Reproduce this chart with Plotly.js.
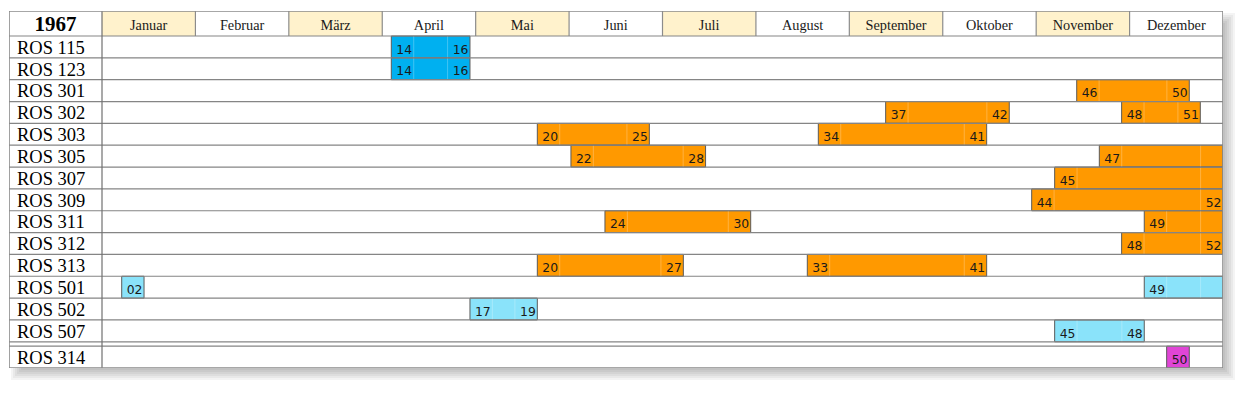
<!DOCTYPE html>
<html>
<head>
<meta charset="utf-8">
<script src="https://cdn.plot.ly/plotly-3.0.1.min.js"></script>
<style>
html,body{margin:0;padding:0;background:#fff;}
#chart{width:1242px;height:397px;}
</style>
</head>
<body>
<div id="chart"></div>
<script>
// ---------- data ----------
const year = "1967";
const months = ["Januar","Februar","März","April","Mai","Juni","Juli","August","September","Oktober","November","Dezember"];
const rowsMain = ["ROS 115","ROS 123","ROS 301","ROS 302","ROS 303","ROS 305","ROS 307","ROS 309","ROS 311","ROS 312","ROS 313","ROS 501","ROS 502","ROS 507"];
const rowsExtra = ["ROS 314"];

// one entry per bar
const barRow = ["ROS 115","ROS 123","ROS 301","ROS 302","ROS 302","ROS 303","ROS 303","ROS 305","ROS 305","ROS 307","ROS 309","ROS 311","ROS 311","ROS 312","ROS 313","ROS 313","ROS 501","ROS 501","ROS 502","ROS 507","ROS 314"];
const barStartWeek = ["14","14","46","37","48","20","34","22","47","45","44","24","49","48","20","33","02","49","17","45","50"];
const barEndWeek   = ["16","16","50","42","51","25","41","28","","","52","30","","52","27","41","","","19","48",""];
// bar extents, in months from 1 January (0 = start of Januar, 12 = end of Dezember)
const barStart = [3.097,3.097,10.434,8.389,10.915,4.660,7.668,5.020,10.676,10.198,9.952,5.384,11.157,10.915,4.660,7.550,0.211,11.157,3.939,10.198,11.397];
const barEnd   = [3.939,3.939,11.639,9.712,11.757,5.859,9.470,6.461,12.000,12.000,12.000,6.944,12.000,12.000,6.223,9.470,0.450,12.000,4.660,11.157,11.639];
const barKind  = ["blue","blue","orange","orange","orange","orange","orange","orange","orange","orange","orange","orange","orange","orange","orange","orange","light","light","light","light","magenta"];

// ---------- styling ----------
const kindColor = {blue:"#00B0F0", orange:"#FF9900", light:"#8AE3FA", magenta:"#E045D6"};
const W = 1242, H = 397;
const M = {l:9, r:19, t:11, b:29};
const plotW = W - M.l - M.r, plotH = H - M.t - M.b;
const pxPerMonth = (1223 - 102) / 12;
const xMin = -93 / pxPerMonth;
const headerUnits = 1.1447;
const gap = 0.2;
const yBottom = rowsMain.length + gap + rowsExtra.length;
const pxPerRow = plotH / (yBottom + headerUnits);
const serif = "Liberation Serif, Times New Roman, serif";
const sans = "DejaVu Sans, Verdana, sans-serif";

// row positions (top edge of each row in y units)
const rowTop = {};
rowsMain.forEach((r,i)=>{ rowTop[r] = i; });
rowsExtra.forEach((r,i)=>{ rowTop[r] = rowsMain.length + gap + i; });
const allRows = rowsMain.concat(rowsExtra);

const barY = barRow.map(r => rowTop[r] + 0.5);

const traces = [];
traces.push({
  type:"bar", orientation:"h",
  y: barY, base: barStart, x: barStart.map((s,i)=>barEnd[i]-s),
  width: barRow.map(()=>1),
  marker:{color: barKind.map(k=>kindColor[k]), line:{color:"#5a5a5a", width:1}},
  hoverinfo:"skip", showlegend:false
});
const tdy = 3.6 / pxPerRow;
traces.push({
  type:"scatter", mode:"text",
  x: barStart.map(s => s + 5/pxPerMonth), y: barY.map(v=>v+tdy),
  text: barStartWeek, textposition:"middle right",
  textfont:{family:sans, size:12.4, color:"#1a1a1a"},
  hoverinfo:"skip", showlegend:false, cliponaxis:false
});
traces.push({
  type:"scatter", mode:"text",
  x: barEnd.map(e => e - 1.5/pxPerMonth), y: barY.map(v=>v+tdy),
  text: barEndWeek, textposition:"middle left",
  textfont:{family:sans, size:12.4, color:"#1a1a1a"},
  hoverinfo:"skip", showlegend:false, cliponaxis:false
});
const ldy = 2.2 / pxPerRow;
traces.push({
  type:"scatter", mode:"text",
  x: allRows.map(()=> xMin + 8/pxPerMonth), y: allRows.map(r=>rowTop[r]+0.5+ldy),
  text: allRows, textposition:"middle right",
  textfont:{family:serif, size:18.5, color:"#000"},
  hoverinfo:"skip", showlegend:false, cliponaxis:false
});
const hdy = 3.4 / pxPerRow;
traces.push({
  type:"scatter", mode:"text",
  x: months.map((m,i)=>i+0.5), y: months.map(()=> -headerUnits/2 + hdy),
  text: months, textposition:"middle center",
  textfont:{family:serif, size:14.3, color:"#1a1a1a"},
  hoverinfo:"skip", showlegend:false, cliponaxis:false
});
traces.push({
  type:"scatter", mode:"text",
  x:[xMin/2], y:[-headerUnits/2 + 2/pxPerRow], text:["<b>"+year+"</b>"], textposition:"middle center",
  textfont:{family:serif, size:21, color:"#000"},
  hoverinfo:"skip", showlegend:false, cliponaxis:false
});

// ---------- shapes ----------
const shapes = [];
const px2x = px => (px - M.l) / plotW;
const py2y = py => (H - M.b - py) / plotH;
// drop shadow
const bx0 = M.l, bx1 = W - M.r, by0 = M.t, by1 = H - M.b;
for (let i=0;i<6;i++){
  const e = 5 - 2*i, off = 7;
  shapes.push({type:"rect", xref:"paper", yref:"paper", layer:"below",
    x0:px2x(bx0+off-e), x1:px2x(bx1+off+e), y0:py2y(by1+off+e), y1:py2y(by0+off-e),
    fillcolor:"rgba(0,0,0,0.045)", line:{width:0}});
}
shapes.push({type:"rect", xref:"paper", yref:"paper", layer:"below",
  x0:0, x1:1, y0:0, y1:1, fillcolor:"#fff", line:{width:0}});
// header fills
months.forEach((m,i)=>{
  if (i % 2 === 0) shapes.push({type:"rect", xref:"x", yref:"y", layer:"below",
    x0:i, x1:i+1, y0:-headerUnits, y1:0, fillcolor:"#FFF2CC", line:{width:0}});
});
// faint cell separators inside bars
const cell = 22.4 / pxPerMonth;
barStart.forEach((s,i)=>{
  const e = barEnd[i], y0 = rowTop[barRow[i]], y1 = y0 + 1;
  if (e - s > 2.2*cell){
    [s+cell, e-cell].forEach(xv=>{
      if (xv < 11.99) shapes.push({type:"line", xref:"x", yref:"y", layer:"above",
        x0:xv, x1:xv, y0:y0, y1:y1, line:{color:"rgba(255,255,255,0.25)", width:1}});
    });
  }
});
// month separators in header
for (let i=1;i<months.length;i++){
  shapes.push({type:"line", xref:"x", yref:"y", layer:"above",
    x0:i, x1:i, y0:-headerUnits, y1:0, line:{color:"#8c8c8c", width:1.2}});
}
// row separators
const sepYs = [0];
for (let i=1;i<=rowsMain.length;i++) sepYs.push(i);
sepYs.push(rowsMain.length + gap);
for (let i=1;i<rowsExtra.length;i++) sepYs.push(rowsMain.length + gap + i);
sepYs.forEach(yv=>{
  shapes.push({type:"line", xref:"x", yref:"y", layer:"above",
    x0:xMin, x1:12, y0:yv, y1:yv, line:{color:"#858585", width:1.2}});
});
// label column separator
shapes.push({type:"line", xref:"x", yref:"y", layer:"above",
  x0:0, x1:0, y0:-headerUnits, y1:yBottom, line:{color:"#707070", width:1.2}});
// outer border
shapes.push({type:"rect", xref:"x", yref:"y", layer:"above",
  x0:xMin, x1:12, y0:-headerUnits, y1:yBottom, line:{color:"#8a8a8a", width:1.6}});

const layout = {
  width:W, height:H, margin:M,
  paper_bgcolor:"#fff", plot_bgcolor:"#fff",
  showlegend:false, barmode:"overlay",
  xaxis:{range:[xMin,12], visible:false, fixedrange:true},
  yaxis:{range:[yBottom,-headerUnits], visible:false, fixedrange:true},
  shapes:shapes
};
Plotly.newPlot("chart", traces, layout, {displayModeBar:false, staticPlot:true});
</script>
</body>
</html>
